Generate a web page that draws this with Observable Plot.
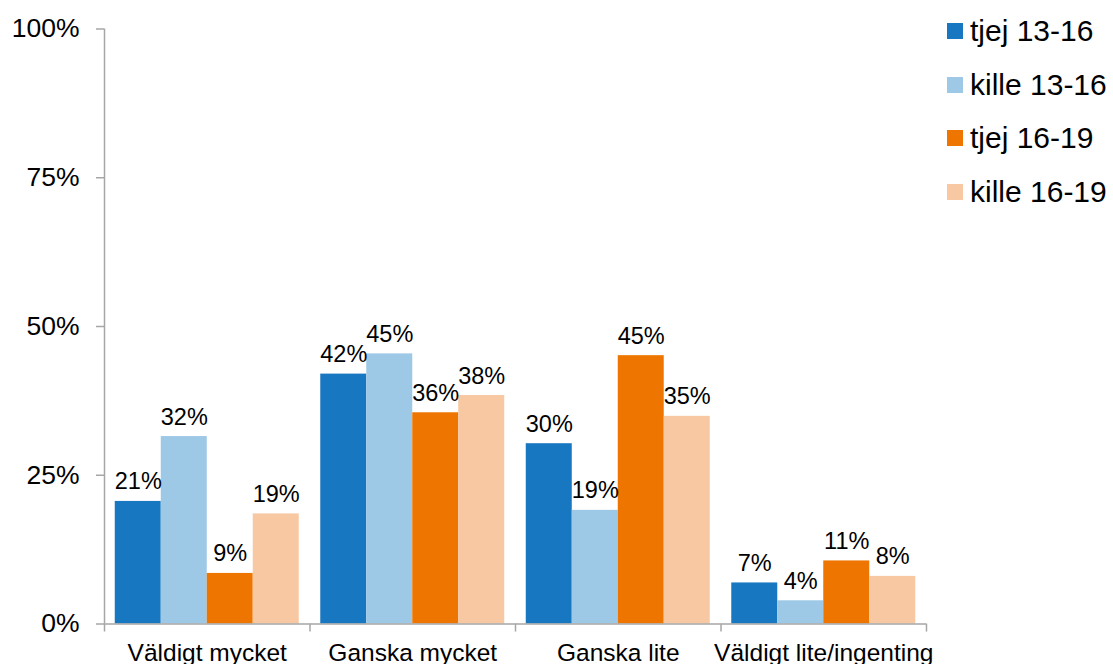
<!DOCTYPE html>
<html><head><meta charset="utf-8">
<script src="https://cdn.jsdelivr.net/npm/d3@7"></script>
<script src="https://cdn.jsdelivr.net/npm/@observablehq/plot@0.6"></script>
<style>
body{margin:0;background:#fff;font-family:"Liberation Sans",Arial,sans-serif;}
#wrap{position:relative;width:1113px;height:664px;overflow:hidden;}
#legend{position:absolute;left:947px;top:0;}
.item{position:absolute;left:0;display:flex;align-items:center;white-space:nowrap;font-size:30px;color:#000;height:40px;}
.sw{width:16px;height:16px;margin-right:7px;flex:none;}
</style></head><body><div id="wrap"><div id="chart"></div><div id="legend"></div></div>
<script>
const categories = ["Väldigt mycket", "Ganska mycket", "Ganska lite", "Väldigt lite/ingenting"];
const seriesNames = ["tjej 13-16", "kille 13-16", "tjej 16-19", "kille 16-19"];
const tjej1316 = [20.6, 42.0, 30.3, 6.9];
const kille1316 = [31.5, 45.4, 19.1, 3.9];
const tjej1619 = [8.5, 35.5, 45.1, 10.6];
const kille1619 = [18.5, 38.4, 34.9, 8.0];
const yTicks = [0, 25, 50, 75, 100];

const colors = ["#1777c0", "#9dc8e6", "#ee7600", "#f7c8a1"];
const gray = "#a6a6a6";

const valuesBySeries = [tjej1316, kille1316, tjej1619, kille1619];
const data = categories.flatMap((c, i) => seriesNames.map((s, j) => ({cat: c, series: s, value: valuesBySeries[j][i]})));

const plot = Plot.plot({
  width: 1113, height: 664,
  marginLeft: 104, marginRight: 187, marginTop: 28.5, marginBottom: 40.5,
  style: {fontFamily: "'Liberation Sans', Arial, sans-serif", color: "#000", background: "#fff"},
  fx: {domain: categories, padding: 0, round: false, label: null},
  x: {domain: seriesNames, paddingInner: 0, paddingOuter: 0.234, round: false, axis: null},
  y: {domain: [0, 100], axis: null},
  color: {domain: seriesNames, range: colors},
  marks: [
    Plot.barY(data, {fx: "cat", x: "series", y: "value", fill: "series"}),
    Plot.ruleY([0], {stroke: gray, strokeWidth: 1.5}),
    Plot.ruleX([categories[0]], {fx: d => d, x: () => seriesNames[0], dx: -33.75, y1: 0, y2: 100, stroke: gray, strokeWidth: 1.5}),
    Plot.ruleX(categories, {fx: d => d, x: () => seriesNames[0], dx: -33.75, y1: 0, y2: -1.35, stroke: gray, strokeWidth: 1.5}),
    Plot.ruleX([categories[categories.length - 1]], {fx: d => d, x: () => seriesNames[seriesNames.length - 1], dx: 33.75, y1: 0, y2: -1.35, stroke: gray, strokeWidth: 1.5}),
    Plot.text(data, {fx: "cat", x: "series", y: "value", text: d => Math.round(d.value) + "%", lineAnchor: "bottom", dy: -12, fontSize: 23.5, fill: "#000"}),
    Plot.axisY(yTicks, {tickFormat: d => d + "%", tickSize: 8, tickPadding: 17, fontSize: 26.5, color: "#000", stroke: gray, strokeWidth: 1.5, label: null}),
    Plot.axisFx({anchor: "bottom", tickSize: 0, tickPadding: 20, fontSize: 24.5, color: "#000", label: null})
  ]
});
document.getElementById("chart").appendChild(plot);

const legend = document.getElementById("legend");
seriesNames.forEach((s, i) => {
  const item = document.createElement("div");
  item.className = "item";
  item.style.top = (11 + i * 53.5) + "px";
  const sw = document.createElement("div");
  sw.className = "sw";
  sw.style.background = colors[i];
  const t = document.createElement("span");
  t.textContent = s;
  item.appendChild(sw); item.appendChild(t);
  legend.appendChild(item);
});
</script>
</body></html>
